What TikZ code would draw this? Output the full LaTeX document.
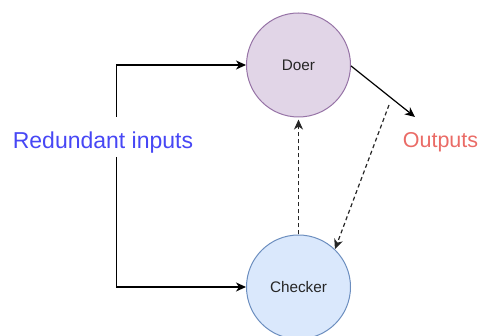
\documentclass[tikz,border=0pt]{standalone}
\usepackage{fontspec}
\setmainfont{Liberation Sans}
\usetikzlibrary{arrows.meta}
\definecolor{doerfill}{HTML}{E1D5E7}
\definecolor{doerline}{HTML}{9673A6}
\definecolor{checkfill}{HTML}{DAE8FC}
\definecolor{checkline}{HTML}{6C8EBF}
\definecolor{inblue}{HTML}{4747F5}
\definecolor{outred}{HTML}{EA6B66}
\tikzset{
  agent/.style={circle, minimum size=104pt, inner sep=0pt, line width=1pt,
    font=\fontsize{15.3pt}{18pt}\selectfont, text=black!85},
  flow/.style={line width=1.2pt, -{Stealth[length=10pt,width=9pt,inset=3pt]}},
  check/.style={flow, black!85, dash pattern=on 4pt off 3pt}
}
\begin{document}
\begin{tikzpicture}[x=1pt, y=-1pt]
  \useasboundingbox (0,0) rectangle (480,336);
  \clip (0,0) rectangle (480,336);

  \node[agent, fill=doerfill, draw=doerline] (doer) at (298.5,65) {Doer};
  \node[agent, fill=checkfill, draw=checkline] (checker) at (298.5,287) {Checker};

  \node[text=inblue, font=\fontsize{23pt}{27pt}\selectfont, inner sep=0pt] (inputs) at (103,143) {Redundant inputs};
  \node[text=outred, font=\fontsize{21.5pt}{25pt}\selectfont, inner sep=0pt] (outputs) at (440.5,142) {Outputs};

  % free ends of the connectors
  \coordinate (inup) at (116.5,117);
  \coordinate (indown) at (116.5,157);
  \coordinate (outtip) at (415,117);
  \coordinate (backstart) at (389,105);

  \draw[flow] (inup) |- (doer);
  \draw[flow] (indown) |- (checker);
  \draw[flow] (doer.-1) -- (outtip);
  \draw[check, shorten >=2pt] (checker.north) -- (doer.south);
  \draw[check] (backstart) -- (checker.46);
\end{tikzpicture}
\end{document}
